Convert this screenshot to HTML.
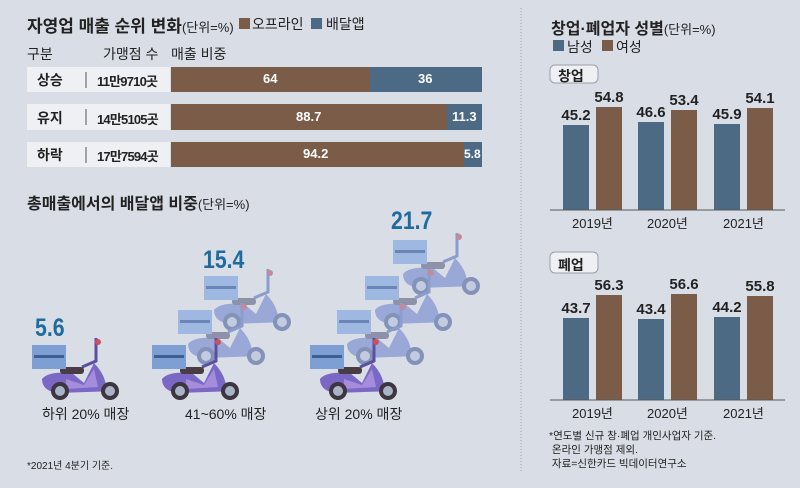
<!DOCTYPE html>
<html><head><meta charset="utf-8"><style>
body{margin:0;width:800px;height:488px;background:#d9dee6;font-family:"Liberation Sans","Noto Sans CJK KR",sans-serif;overflow:hidden;position:relative;color:#222}
.a{position:absolute;white-space:nowrap}
</style></head><body>
<svg width="800" height="488" style="position:absolute;left:0;top:0">
<defs>
<g id="sc">
 <path d="M50 22 L64 16 L64 -7" stroke="#5a4fa0" stroke-width="3" fill="none"/>
 <circle cx="66" cy="-3" r="3" fill="#d0505a"/>
 <path d="M10 34 Q16 26 40 28 L52 38 L62 18 Q72 28 74 40 L84 46 L26 48 Q10 46 10 34Z" fill="#7a68c4"/>
 <path d="M34 34 L52 40 L62 24 L66 42 L34 44Z" fill="#a58ddc"/>
 <rect x="28" y="22" width="24" height="7" rx="3" fill="#4a3c44"/>
 <circle cx="28" cy="46" r="9" fill="#3d3540"/><circle cx="28" cy="46" r="5" fill="#a9b4c8"/>
 <circle cx="78" cy="46" r="9" fill="#3d3540"/><circle cx="78" cy="46" r="5" fill="#a9b4c8"/>
 <rect x="0" y="0" width="34" height="24" fill="#7d9fd4"/>
 <rect x="2" y="10" width="30" height="3" fill="#3e5f94"/>
</g>
<g id="scf">
 <path d="M50 22 L64 16 L64 -7" stroke="#8c9ccc" stroke-width="3" fill="none"/>
 <circle cx="66" cy="-3" r="3" fill="#c58a9a"/>
 <path d="M10 34 Q16 26 40 28 L52 38 L62 18 Q72 28 74 40 L84 46 L26 48 Q10 46 10 34Z" fill="#9aa8d8"/>
 <rect x="28" y="22" width="24" height="7" rx="3" fill="#8d92a8"/>
 <circle cx="28" cy="46" r="9" fill="#8392b8"/><circle cx="28" cy="46" r="5" fill="#c3cbe0"/>
 <circle cx="78" cy="46" r="9" fill="#8392b8"/><circle cx="78" cy="46" r="5" fill="#c3cbe0"/>
 <rect x="0" y="0" width="34" height="24" fill="#9fb8e2"/>
 <rect x="2" y="10" width="30" height="3" fill="#6a86b6"/>
</g>
</defs>
<line x1="521" y1="8" x2="521" y2="472" stroke="#9aa0aa" stroke-dasharray="1,2"/>
<rect x="27" y="67" width="143" height="25" fill="#eef0f4"/>
<rect x="27" y="104" width="143" height="26" fill="#eef0f4"/>
<rect x="27" y="142" width="143" height="25" fill="#eef0f4"/>
<line x1="86" y1="72" x2="86" y2="88" stroke="#555"/><line x1="86" y1="109" x2="86" y2="125" stroke="#555"/><line x1="86" y1="147" x2="86" y2="163" stroke="#555"/>
<rect x="171" y="67" width="199" height="25" fill="#7a5c48"/><rect x="370" y="67" width="112" height="25" fill="#4d6a85"/>
<rect x="171" y="104" width="276" height="26" fill="#7a5c48"/><rect x="447" y="104" width="35" height="26" fill="#4d6a85"/>
<rect x="171" y="142" width="293" height="25" fill="#7a5c48"/><rect x="464" y="142" width="18" height="25" fill="#4d6a85"/>
<rect x="239" y="18" width="11" height="11" fill="#7a5c48"/><rect x="311" y="18" width="11" height="11" fill="#4d6a85"/>
<use href="#sc" x="32" y="345"/>
<use href="#scf" x="204" y="276"/><use href="#scf" x="178" y="310"/><use href="#sc" x="152" y="345"/>
<use href="#scf" x="393" y="240"/><use href="#scf" x="365" y="276"/><use href="#scf" x="337" y="310"/><use href="#sc" x="310" y="345"/>
<rect x="553" y="40" width="11" height="11" fill="#4d6a85"/><rect x="602" y="40" width="11" height="11" fill="#7a5c48"/>
<rect x="550" y="65" width="48" height="18" rx="5" fill="#eef0f4" stroke="#9a9ea6"/>
<rect x="550" y="252" width="48" height="21" rx="5" fill="#eef0f4" stroke="#9a9ea6"/>
<g fill="#4d6a85"><rect x="563" y="125" width="26" height="85"/><rect x="638" y="122" width="26" height="88"/><rect x="714" y="124" width="26" height="86"/>
<rect x="563" y="318" width="26" height="82"/><rect x="638" y="319" width="26" height="81"/><rect x="714" y="317" width="26" height="83"/></g>
<g fill="#7a5c48"><rect x="596" y="107" width="26" height="103"/><rect x="671" y="110" width="26" height="100"/><rect x="747" y="108" width="26" height="102"/>
<rect x="596" y="295" width="26" height="105"/><rect x="671" y="294" width="26" height="106"/><rect x="747" y="296" width="26" height="104"/></g>
<line x1="550" y1="210" x2="785" y2="210" stroke="#555"/><line x1="550" y1="400" x2="785" y2="400" stroke="#555"/>
</svg>
<div class="a" style="left:27px;top:12px;font-size:17px;font-weight:bold">자영업 매출 순위 변화<span style="font-weight:normal;font-size:13px">(단위=%)</span></div>
<div class="a" style="left:252px;top:14px;font-size:14px">오프라인</div>
<div class="a" style="left:326px;top:14px;font-size:14px">배달앱</div>
<div class="a" style="left:27px;top:44px;font-size:14px">구분</div>
<div class="a" style="left:103px;top:44px;font-size:14px">가맹점 수</div>
<div class="a" style="left:171px;top:44px;font-size:14px">매출 비중</div>
<div class="a" style="left:37px;top:70px;font-size:14px;font-weight:bold">상승</div>
<div class="a" style="left:37px;top:108px;font-size:14px;font-weight:bold">유지</div>
<div class="a" style="left:37px;top:145px;font-size:14px;font-weight:bold">하락</div>
<div class="a" style="left:97px;top:71px;font-size:13px;font-weight:bold;letter-spacing:-0.8px">11만9710곳</div>
<div class="a" style="left:97px;top:109px;font-size:13px;font-weight:bold;letter-spacing:-0.8px">14만5105곳</div>
<div class="a" style="left:97px;top:146px;font-size:13px;font-weight:bold;letter-spacing:-0.8px">17만7594곳</div>
<div class="a" style="left:263px;top:71px;font-size:13px;color:#fff;font-weight:bold">64</div>
<div class="a" style="left:418px;top:71px;font-size:13px;color:#fff;font-weight:bold">36</div>
<div class="a" style="left:296px;top:109px;font-size:13px;color:#fff;font-weight:bold">88.7</div>
<div class="a" style="left:452px;top:109px;font-size:13px;color:#fff;font-weight:bold">11.3</div>
<div class="a" style="left:303px;top:146px;font-size:13px;color:#fff;font-weight:bold">94.2</div>
<div class="a" style="left:464px;top:147px;font-size:12px;color:#fff;font-weight:bold">5.8</div>
<div class="a" style="left:27px;top:190px;font-size:16px;font-weight:bold">총매출에서의 배달앱 비중<span style="font-weight:normal;font-size:13px">(단위=%)</span></div>
<div class="a" style="left:35px;top:314px;font-size:25px;font-weight:bold;color:#1f6a9e;transform:scaleX(.85);transform-origin:left">5.6</div>
<div class="a" style="left:203px;top:246px;font-size:25px;font-weight:bold;color:#1f6a9e;transform:scaleX(.85);transform-origin:left">15.4</div>
<div class="a" style="left:391px;top:207px;font-size:25px;font-weight:bold;color:#1f6a9e;transform:scaleX(.85);transform-origin:left">21.7</div>
<div class="a" style="left:42px;top:404px;font-size:14px">하위 20% 매장</div>
<div class="a" style="left:185px;top:404px;font-size:14px">41~60% 매장</div>
<div class="a" style="left:315px;top:404px;font-size:14px">상위 20% 매장</div>
<div class="a" style="left:27px;top:457px;font-size:10px">*2021년 4분기 기준.</div>
<div class="a" style="left:551px;top:15px;font-size:16px;font-weight:bold">창업·폐업자 성별<span style="font-weight:normal;font-size:13px">(단위=%)</span></div>
<div class="a" style="left:567px;top:37px;font-size:14px">남성</div>
<div class="a" style="left:616px;top:37px;font-size:14px">여성</div>
<div class="a" style="left:558px;top:66px;font-size:14px;font-weight:bold">창업</div>
<div class="a" style="left:558px;top:255px;font-size:14px;font-weight:bold">폐업</div>
<div style="position:absolute;left:0;top:0;font-size:15px;font-weight:bold">
<div class="a" style="left:560px;top:107px;width:32px;text-align:center">45.2</div>
<div class="a" style="left:593px;top:89px;width:32px;text-align:center">54.8</div>
<div class="a" style="left:635px;top:104px;width:32px;text-align:center">46.6</div>
<div class="a" style="left:668px;top:92px;width:32px;text-align:center">53.4</div>
<div class="a" style="left:711px;top:106px;width:32px;text-align:center">45.9</div>
<div class="a" style="left:744px;top:90px;width:32px;text-align:center">54.1</div>
<div class="a" style="left:560px;top:300px;width:32px;text-align:center">43.7</div>
<div class="a" style="left:593px;top:277px;width:32px;text-align:center">56.3</div>
<div class="a" style="left:635px;top:301px;width:32px;text-align:center">43.4</div>
<div class="a" style="left:668px;top:276px;width:32px;text-align:center">56.6</div>
<div class="a" style="left:711px;top:299px;width:32px;text-align:center">44.2</div>
<div class="a" style="left:744px;top:278px;width:32px;text-align:center">55.8</div>
</div>
<div class="a" style="left:572px;top:213px;font-size:13px">2019년</div>
<div class="a" style="left:647px;top:213px;font-size:13px">2020년</div>
<div class="a" style="left:723px;top:213px;font-size:13px">2021년</div>
<div class="a" style="left:572px;top:403px;font-size:13px">2019년</div>
<div class="a" style="left:647px;top:403px;font-size:13px">2020년</div>
<div class="a" style="left:723px;top:403px;font-size:13px">2021년</div>
<div class="a" style="left:549px;top:429px;font-size:10.5px;line-height:14px">*연도별 신규 창·폐업 개인사업자 기준.<br>&nbsp;온라인 가맹점 제외.<br>&nbsp;자료=신한카드 빅데이터연구소</div>
</body></html>
